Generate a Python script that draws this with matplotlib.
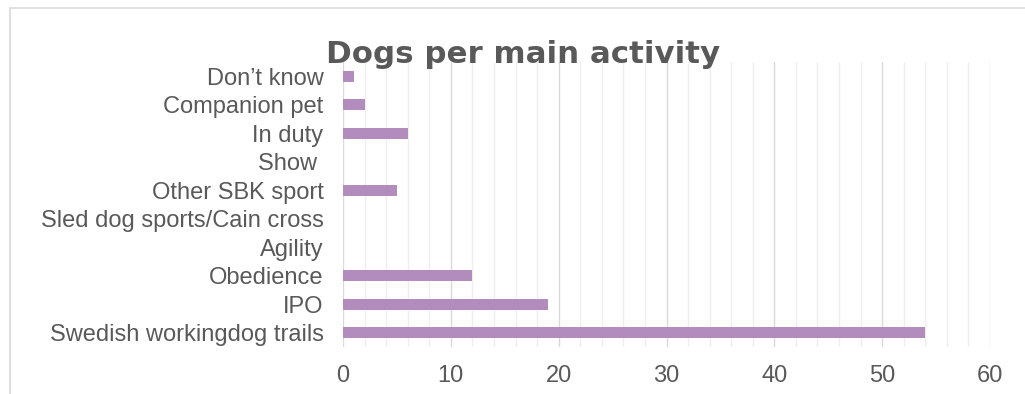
import matplotlib.pyplot as plt
from matplotlib.patches import Rectangle
from matplotlib.ticker import MultipleLocator

# data, top to bottom as shown
categories = ["Don\u2019t know", "Companion pet", "In duty", "Show ", "Other SBK sport",
              "Sled dog sports/Cain cross", "Agility", "Obedience", "IPO",
              "Swedish workingdog trails"]
dogs = [1, 2, 6, 0, 5, 0, 0, 12, 19, 54]
xticks = [0, 10, 20, 30, 40, 50, 60]

plt.rcParams['font.family'] = ['Liberation Sans', 'DejaVu Sans']
text_col = "#595959"

fig = plt.figure(figsize=(10.25, 3.94), dpi=100)
ax = fig.add_axes([343 / 1025, 1 - 347 / 394, (990 - 343) / 1025, (347 - 62) / 394])

pos = list(range(len(categories)))
ax.barh(pos, dogs, height=0.39, color="#B18CBD", zorder=3)
ax.set_ylim(len(categories) - 0.5, -0.5)
ax.set_yticks(pos)
ax.set_yticklabels(categories)
ax.set_xlim(0, 60)
ax.set_xticks(xticks)
ax.xaxis.set_minor_locator(MultipleLocator(2))

ax.grid(axis="x", which="major", color="#d9d9d9", linewidth=1.0, zorder=0)
ax.grid(axis="x", which="minor", color="#efefef", linewidth=1.0, zorder=0)
for s in ax.spines.values():
    s.set_visible(False)
ax.tick_params(axis="both", which="both", length=0, labelsize=17, colors=text_col)
ax.tick_params(axis="y", pad=14)
ax.tick_params(axis="x", pad=13)

# heavy title, closer to the Arial Black look of the original
fig.text(523 / 1025, 1 - 63 / 394, "Dogs per main activity", ha="center", va="baseline",
         fontsize=22.2, fontweight="bold", color=text_col, family="DejaVu Sans")

# chart frame
fig.patches.append(Rectangle((10 / 1025, -0.1), 1.1, 1 - 8 / 394 + 0.1,
                             transform=fig.transFigure, fill=False,
                             edgecolor="#d9d9d9", linewidth=1.2))

fig.savefig("out.png", dpi=100)
